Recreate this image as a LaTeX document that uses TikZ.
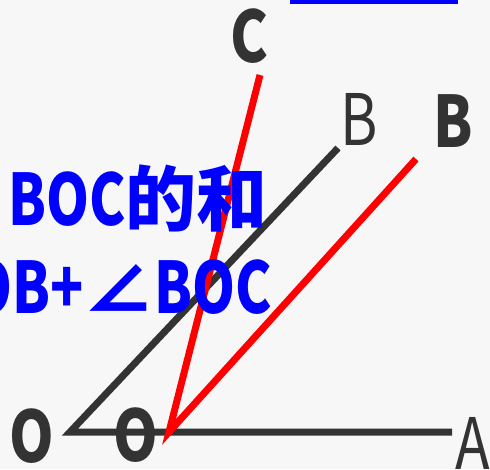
\documentclass[tikz,border=0pt]{standalone}
\usepackage{fontspec}
\newfontfamily\cjk{Noto Sans CJK SC}
\newfontfamily\latn{Noto Sans CJK SC}[FakeStretch=0.77]
\newfontfamily\lab{Noto Sans CJK SC}[FakeStretch=0.8]
\definecolor{bg}{HTML}{F7F7F7}
\definecolor{ink}{HTML}{333333}
\definecolor{rd}{HTML}{FF0000}
\definecolor{bl}{HTML}{0000FF}
\tikzset{
  blk/.style={draw=ink,line width=7pt,line cap=butt,line join=miter},
  redl/.style={draw=rd,line width=7pt,line cap=butt,line join=miter},
  lbl/.style={text=ink,inner sep=0pt,font=\lab\fontsize{71}{71}\selectfont},
  lblb/.style={lbl,font=\lab\bfseries\fontsize{71}{71}\selectfont},
  bluetxt/.style={text=bl,inner sep=0pt,anchor=base east,font=\bfseries\fontsize{71}{71}\selectfont}
}
\begin{document}
\begin{tikzpicture}[x=1pt,y=-1pt]
\useasboundingbox (0,0) rectangle (490,469);
\clip (0,0) rectangle (490,469);
\fill[bg] (0,0) rectangle (490,469);
% coordinates
\coordinate (O1) at (70,432);
\coordinate (B1) at (338,148);
\coordinate (A1) at (452,432);
\coordinate (O2) at (169,432);
\coordinate (C2) at (260,75);
\coordinate (B2) at (416,159);
% blue bar
\fill[bl] (290,0) rectangle (458,4);
% lines
\draw[blk] (B1) -- (O1) -- (A1);
\draw[redl] (C2) -- (O2) -- (B2);
% labels
\node[lblb,anchor=base] (lC) at (249,62) {C};
\node[lbl,anchor=base] (lB1) at (359,145) {B};
\node[lblb,anchor=base] (lB2) at (453,147) {B};
\node[lblb,anchor=base] (lO1) at (32,462) {O};
\node[lblb,anchor=base] (lO2) at (136,461) {O};
\node[lbl,anchor=base west] (lA) at (455,469) {A};
% blue text
\node[bluetxt] (t1) at (268,225) {{\latn BOC}{\cjk 的和}};
\node[bluetxt] (t2) at (272,313) {{\cjk ∠}{\latn AOB+}{\cjk ∠}{\latn BOC}};
\end{tikzpicture}
\end{document}
